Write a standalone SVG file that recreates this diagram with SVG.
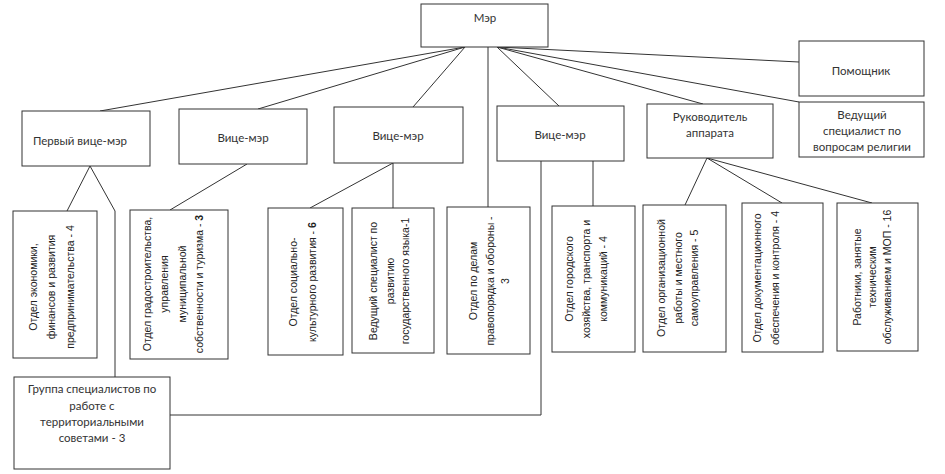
<svg xmlns="http://www.w3.org/2000/svg" width="945" height="474" viewBox="0 0 945 474">
<style>
.box{fill:#fff;stroke:#333;stroke-width:1}
.ln{fill:none;stroke:#333;stroke-width:1}
.t{font-family:Lato,"Open Sans","Liberation Sans",sans-serif;font-size:11.5px;fill:#333;text-anchor:middle}
.r{font-family:"Liberation Sans",Arial,sans-serif;font-size:10.5px;fill:#222;text-anchor:middle}
.b{font-weight:bold}
</style>
<rect width="945" height="474" fill="#fff"/>
<g id="connectors">
<polyline class="ln" points="465,47 100,111"/>
<polyline class="ln" points="465,47 258,109"/>
<polyline class="ln" points="465,47 413,107"/>
<polyline class="ln" points="488,47 488,207"/>
<polyline class="ln" points="497,47 559,106"/>
<polyline class="ln" points="497,47 703,104"/>
<polyline class="ln" points="497,47 799,102"/>
<polyline class="ln" points="497,47 799,62"/>
<polyline class="ln" points="90,166 67,211"/>
<polyline class="ln" points="90,166 115,211 115,377"/>
<polyline class="ln" points="247,164 170,210"/>
<polyline class="ln" points="393,163 310,208"/>
<polyline class="ln" points="393,163 393,208"/>
<polyline class="ln" points="541,161 541,415 170,415"/>
<polyline class="ln" points="593,161 593,206"/>
<polyline class="ln" points="707,158 685,205"/>
<polyline class="ln" points="707,158 782,203"/>
<polyline class="ln" points="707,158 872,203"/>
</g>
<g id="mayor"><rect class="box" x="421" y="4" width="127" height="43"/><text class="t" x="485" y="22">Мэр</text></g>
<g id="assistant"><rect class="box" x="799" y="41" width="125" height="55"/><text class="t" x="861" y="75">Помощник</text></g>
<g id="first-vice"><rect class="box" x="22" y="111" width="128" height="55"/><text class="t" x="80" y="145">Первый вице-мэр</text></g>
<g id="vice1"><rect class="box" x="179" y="109" width="128" height="55"/><text class="t" x="243" y="142">Вице-мэр</text></g>
<g id="vice2"><rect class="box" x="334" y="107" width="129" height="56"/><text class="t" x="398" y="140">Вице-мэр</text></g>
<g id="vice3"><rect class="box" x="497" y="106" width="127" height="55"/><text class="t" x="560" y="139">Вице-мэр</text></g>
<g id="head"><rect class="box" x="647" y="104" width="126" height="54"/><text class="t" x="710" y="121">Руководитель</text><text class="t" x="710" y="137">аппарата</text></g>
<g id="religion"><rect class="box" x="799" y="102" width="125" height="55"/><text class="t" x="862" y="119">Ведущий</text><text class="t" x="862" y="135">специалист по</text><text class="t" x="862" y="151">вопросам религии</text></g>
<g id="economy"><rect class="box" x="13" y="211" width="84" height="147"/>
<text class="r" transform="translate(37,287) rotate(-90)">Отдел экономики,</text>
<text class="r" transform="translate(55,287) rotate(-90)">финансов и развития</text>
<text class="r" transform="translate(74,287) rotate(-90)">предпринимательства - 4</text></g>
<g id="urban"><rect class="box" x="130" y="210" width="98" height="149"/>
<text class="r" transform="translate(151,284) rotate(-90)">Отдел градостроительства,</text>
<text class="r" transform="translate(168,284) rotate(-90)">управления</text>
<text class="r" transform="translate(186,284) rotate(-90)">муниципальной</text>
<text class="r" transform="translate(203,284) rotate(-90)">собственности и туризма - <tspan class="b">3</tspan></text></g>
<g id="social"><rect class="box" x="268" y="208" width="75" height="147"/>
<text class="r" transform="translate(297,282) rotate(-90)">Отдел социально-</text>
<text class="r" transform="translate(316,282) rotate(-90)">культурного развития - <tspan class="b">6</tspan></text></g>
<g id="language"><rect class="box" x="352" y="208" width="82" height="145"/>
<text class="r" transform="translate(377,281) rotate(-90)">Ведущий специалист по</text>
<text class="r" transform="translate(394,281) rotate(-90)">развитию</text>
<text class="r" transform="translate(409,281) rotate(-90)">государственного  языка-1</text></g>
<g id="order"><rect class="box" x="447" y="207" width="83" height="147"/>
<text class="r" transform="translate(477,281) rotate(-90)">Отдел по делам</text>
<text class="r" transform="translate(494,281) rotate(-90)">правопорядка и обороны -</text>
<text class="r" transform="translate(509,281) rotate(-90)">3</text></g>
<g id="city"><rect class="box" x="552" y="206" width="83" height="146"/>
<text class="r" transform="translate(573,279) rotate(-90)">Отдел городского</text>
<text class="r" transform="translate(590,279) rotate(-90)">хозяйства, транспорта и</text>
<text class="r" transform="translate(607,279) rotate(-90)">коммуникаций - 4</text></g>
<g id="org"><rect class="box" x="643" y="205" width="83" height="147"/>
<text class="r" transform="translate(665,278) rotate(-90)">Отдел организационной</text>
<text class="r" transform="translate(682,278) rotate(-90)">работы и местного</text>
<text class="r" transform="translate(698,278) rotate(-90)">самоуправления - 5</text></g>
<g id="docs"><rect class="box" x="742" y="203" width="81" height="149"/>
<text class="r" transform="translate(761,278) rotate(-90)">Отдел документационного</text>
<text class="r" transform="translate(779,278) rotate(-90)">обеспечения и контроля - 4</text></g>
<g id="workers"><rect class="box" x="837" y="203" width="81" height="148"/>
<text class="r" transform="translate(861,277) rotate(-90)">Работники, занятые</text>
<text class="r" transform="translate(876,277) rotate(-90)">техническим</text>
<text class="r" transform="translate(891,277) rotate(-90)">обслуживанием и МОП - 16</text></g>
<g id="group"><rect class="box" x="14" y="377" width="156" height="92"/>
<text class="t" x="92" y="393">Группа специалистов по</text>
<text class="t" x="92" y="410">работе с</text>
<text class="t" x="92" y="426">территориальными</text>
<text class="t" x="92" y="442">советами - 3</text></g>
</svg>
